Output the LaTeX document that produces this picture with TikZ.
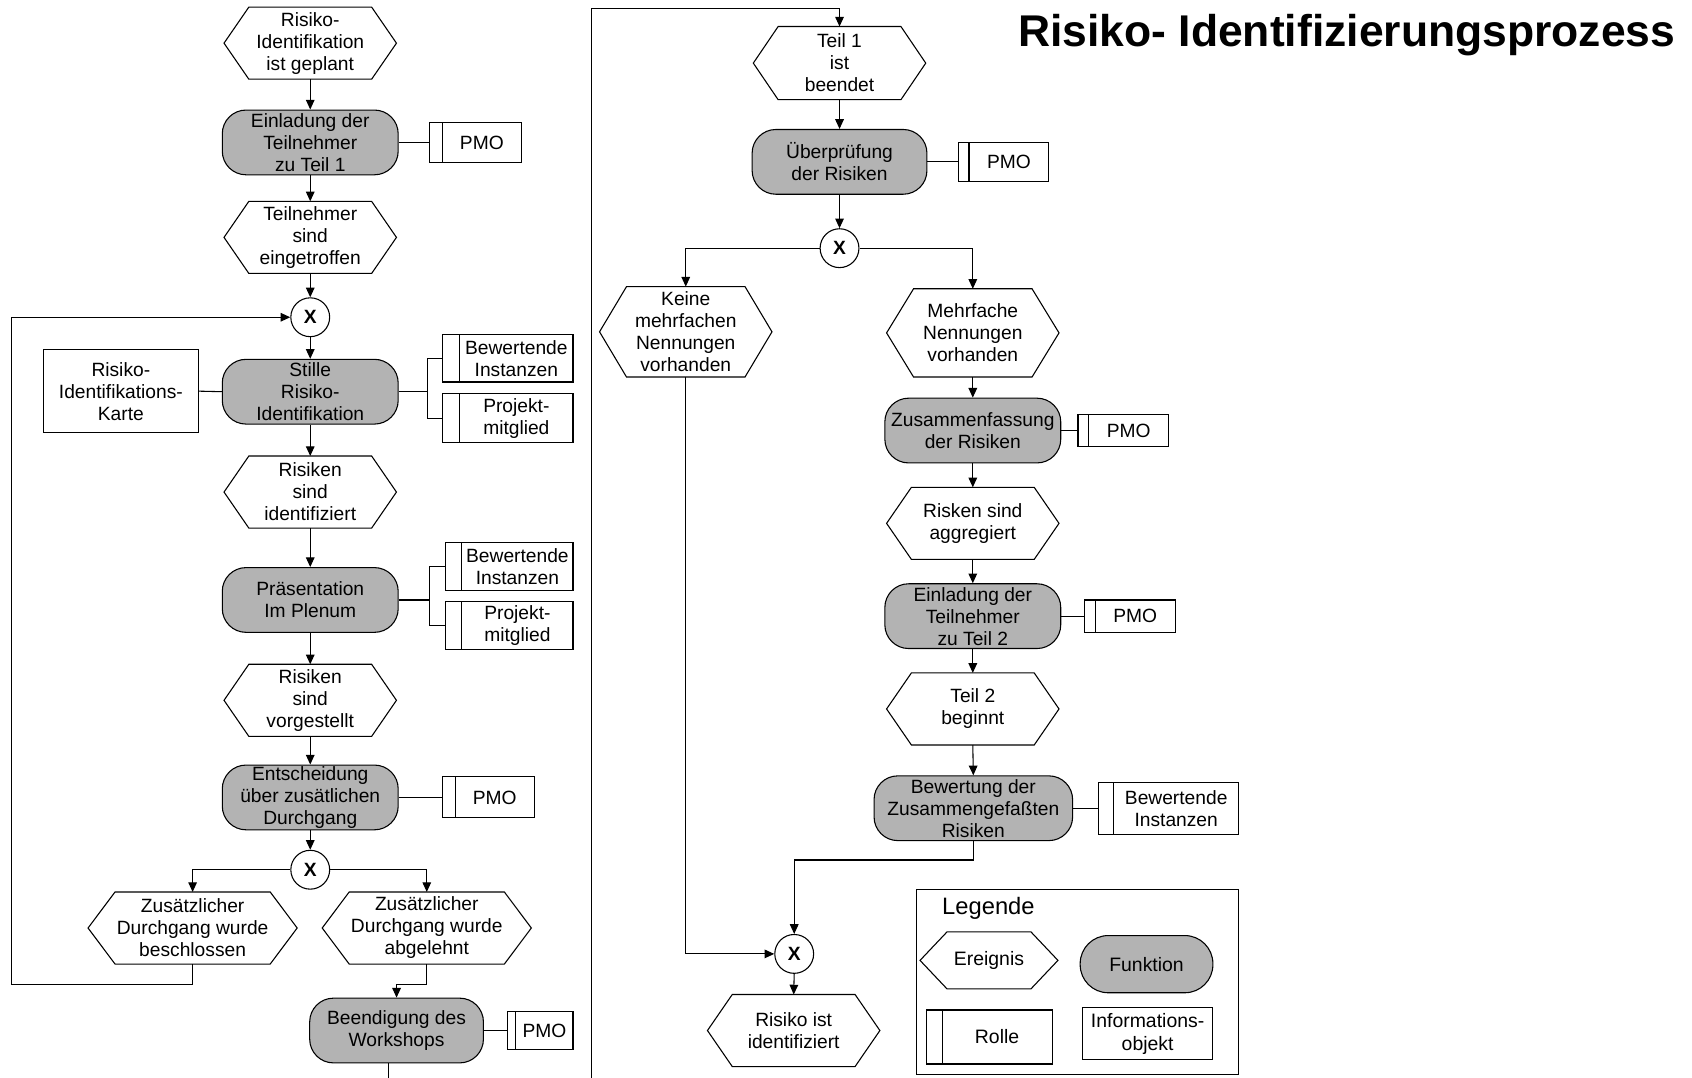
\documentclass[tikz,border=0pt]{standalone}
\usepackage{fontspec}
\setmainfont{Liberation Sans}
\usetikzlibrary{arrows.meta}
\definecolor{fngray}{RGB}{179,179,179}
\newcommand\fsz{\fontsize{8.9}{10.2}\selectfont}
\newcommand\fsl{\fontsize{9}{10.6}\selectfont}
\newcommand\hexa[2]{\draw[ln] (#1.west) -- ([xshift=#2]#1.north west) -- ([xshift=-#2]#1.north east) -- (#1.east) -- ([xshift=-#2]#1.south east) -- ([xshift=#2]#1.south west) -- cycle;}
\tikzset{
 ln/.style={line width=0.5pt, draw=black},
 arr/.style={ln, -{Triangle[length=4.5pt,width=4pt]}},
 ev/.style={rectangle, inner sep=0pt, align=center, font=\fsz, minimum width=79.5pt, minimum height=33pt},
 fn/.style={rectangle, rounded corners=11pt, ln, fill=fngray, inner sep=0pt, align=center, font=\fsz, minimum width=81.5pt, minimum height=30pt},
 role/.style={rectangle, ln, inner sep=0pt, align=center, font=\fsz, path picture={\draw[ln] ([xshift=#1]path picture bounding box.north west) -- ([xshift=#1]path picture bounding box.south west);}},
 info/.style={rectangle, ln, inner sep=0pt, align=center, font=\fsz},
 xor/.style={circle, ln, fill=white, minimum size=18pt, inner sep=0pt, font=\bfseries\fsz},
}
\begin{document}
\begin{tikzpicture}[x=0.5pt,y=-0.5pt]
\useasboundingbox (0,0) rectangle (1568,999);
\node[font=\fontsize{20.6}{24}\selectfont\bfseries] (title) at (1248,33) {Risiko- Identifizierungsprozess};

% left column
\node[ev] (e1) at (287.5,40) {Risiko-\\Identifikation\\ist geplant};
\node[fn] (f1) at (287.5,132) {Einladung der\\Teilnehmer\\zu Teil 1};
\node[role=6pt, minimum width=42.5pt, minimum height=18.5pt] (r1) at (440.5,132) {\hspace*{6pt}PMO};
\node[ev] (e2) at (287.5,220) {Teilnehmer\\sind\\eingetroffen};
\node[xor] (x1) at (287.5,294) {X};
\node[info, minimum width=72pt, minimum height=38.5pt] (i1) at (112,362.5) {Risiko-\\Identifikations-\\Karte};
\node[fn] (f2) at (287.5,363) {Stille\\Risiko-\\Identifikation};
\node[role=8pt, minimum width=60.5pt, minimum height=22pt] (r2a) at (470.5,332) {\hspace*{8pt}Bewertende\\\hspace*{8pt}Instanzen};
\node[role=8pt, minimum width=60.5pt, minimum height=22.5pt] (r2b) at (470.5,387.5) {\hspace*{8pt}Projekt-\\\hspace*{8pt}mitglied};
\node[ev] (e3) at (287.5,456) {Risiken\\sind\\identifiziert};
\node[fn] (f3) at (287.5,556) {Präsentation\\Im Plenum};
\node[role=7.5pt, minimum width=59pt, minimum height=22pt] (r3a) at (472,525) {\hspace*{7.5pt}Bewertende\\\hspace*{7.5pt}Instanzen};
\node[role=7.5pt, minimum width=59pt, minimum height=22.5pt] (r3b) at (472,579.5) {\hspace*{7.5pt}Projekt-\\\hspace*{7.5pt}mitglied};
\node[ev] (e4) at (287.5,649) {Risiken\\sind\\vorgestellt};
\node[fn] (f4) at (287.5,739) {Entscheidung\\über zusätlichen\\Durchgang};
\node[role=6pt, minimum width=42.5pt, minimum height=19pt] (r4) at (452.5,739) {\hspace*{6pt}PMO};
\node[xor] (x2) at (287.5,806) {X};
\node[ev, minimum width=96.5pt] (e5) at (178.5,860) {Zusätzlicher\\Durchgang wurde\\beschlossen};
\node[ev, minimum width=96.5pt] (e6) at (395.5,860) {Zusätzlicher\\Durchgang wurde\\abgelehnt};
\node[fn, minimum width=80.5pt] (f5) at (367.5,955) {Beendigung des\\Workshops};
\node[role=4pt, minimum width=30.5pt, minimum height=18pt] (r5) at (500.5,955) {\hspace*{4pt}PMO};

% right column
\node[ev, minimum height=33.5pt] (e7) at (778,58.5) {Teil 1\\ist\\beendet};
\node[fn, minimum width=81pt] (f6) at (778,150) {Überprüfung\\der Risiken};
\node[role=5pt, minimum width=42pt, minimum height=18pt] (r6) at (930,150) {\hspace*{5pt}PMO};
\node[xor] (x3) at (778,230) {X};
\node[ev, minimum height=41.5pt] (e8) at (635.5,307.5) {Keine\\mehrfachen\\Nennungen\\vorhanden};
\node[ev, minimum height=40.5pt] (e9) at (901.5,308.5) {Mehrfache\\Nennungen\\vorhanden};
\node[fn] (f7) at (901.5,399) {Zusammenfassung\\der Risiken};
\node[role=5pt, minimum width=42pt, minimum height=15pt] (r7) at (1041,399) {\hspace*{5pt}PMO};
\node[ev] (e10) at (901.5,485) {Risken sind\\aggregiert};
\node[fn] (f8) at (901.5,571) {Einladung der\\Teilnehmer\\zu Teil 2};
\node[role=5pt, minimum width=42pt, minimum height=15pt] (r8) at (1047,571) {\hspace*{5pt}PMO};
\node[ev] (e11) at (901.5,657) {Teil 2\\beginnt};
\node[fn, minimum width=92pt] (f9) at (902,749) {Bewertung der\\Zusammengefaßten\\Risiken};
\node[role=7pt, minimum width=65pt, minimum height=24pt] (r9) at (1083,749) {\hspace*{7pt}Bewertende\\\hspace*{7pt}Instanzen};
\node[xor] (x4) at (736,884) {X};
\node[ev] (e12) at (735.5,955) {Risiko ist\\identifiziert};

% legend
\node[rectangle, ln, minimum width=149.5pt, minimum height=86pt] (leg) at (998.5,910) {};
\node[font=\fontsize{11}{13}\selectfont] (legt) at (916,842) {Legende};
\node[ev, font=\fsl, minimum width=63.5pt, minimum height=26pt] (le) at (916.5,890) {Ereignis};
\node[fn, font=\fsl, minimum width=61.5pt, minimum height=26.5pt, rounded corners=13pt] (lf) at (1062.5,893.5) {Funktion};
\node[role=7pt, font=\fsl, minimum width=58pt, minimum height=25pt] (lr) at (917,961) {\hspace*{7pt}Rolle};
\node[info, font=\fsl, minimum width=60.5pt, minimum height=24pt] (li) at (1063.5,958) {Informations-\\objekt};

% hexagons
\foreach \n in {e1,e2,e3,e4,e7,e10,e11,e12} {\hexa{\n}{11.5pt}}
\foreach \n in {e5,e6,e8,e9,le} {\hexa{\n}{12.5pt}}

% connectors left
\draw[arr] (e1.south) -- (f1.north);
\draw[ln] (f1.east) -- (r1.west);
\draw[arr] (f1.south) -- (e2.north);
\draw[arr] (e2.south) -- (x1.north);
\draw[arr] (x1.south) -- (f2.north);
\draw[ln] (i1.east) -- (f2.west);
\coordinate (b2) at (396,363);
\draw[ln] (f2.east) -- (b2);
\draw[ln] (r2a.west) -| (b2) |- (r2b.west);
\draw[arr] (f2.south) -- (e3.north);
\draw[arr] (e3.south) -- (f3.north);
\coordinate (b3) at (398,556);
\draw[ln] (f3.east) -- (b3);
\draw[ln] (r3a.west) -| (b3) |- (r3b.west);
\draw[arr] (f3.south) -- (e4.north);
\draw[arr] (e4.south) -- (f4.north);
\draw[ln] (f4.east) -- (r4.west);
\draw[arr] (f4.south) -- (x2.north);
\draw[arr] (x2.west) -| (e5.north);
\draw[arr] (x2.east) -| (e6.north);
\coordinate (l1) at (11,912);
\draw[arr] (e5.south) |- (l1) |- (x1.west);
\coordinate (j6) at (367.5,912);
\draw[arr] (e6.south) |- (j6) -- (f5.north);
\draw[ln] (f5.east) -- (r5.west);
\coordinate (c1) at (360,999);
\draw[ln] (c1 |- f5.south) -- (c1);
\coordinate (c2) at (548,999);
\coordinate (t2) at (548,8);
\draw[arr] (c2) -- (t2) -| (e7.north);

% connectors right
\draw[arr] (e7.south) -- (f6.north);
\draw[ln] (f6.east) -- (r6.west);
\draw[arr] (f6.south) -- (x3.north);
\draw[arr] (x3.west) -| (e8.north);
\draw[arr] (x3.east) -| (e9.north);
\draw[arr] (e9.south) -- (f7.north);
\draw[ln] (f7.east) -- (r7.west);
\draw[arr] (f7.south) -- (e10.north);
\draw[arr] (e10.south) -- (f8.north);
\draw[ln] (f8.east) -- (r8.west);
\draw[arr] (f8.south) -- (e11.north);
\draw[arr] (e11.south) -- (f9.north);
\draw[ln] (f9.east) -- (r9.west);
\coordinate (j9) at (736,797);
\draw[arr] (f9.south) |- (j9) -- (x4.north);
\draw[arr] (e8.south) |- (x4.west);
\draw[arr] (x4.south) -- (e12.north);
\end{tikzpicture}
\end{document}
